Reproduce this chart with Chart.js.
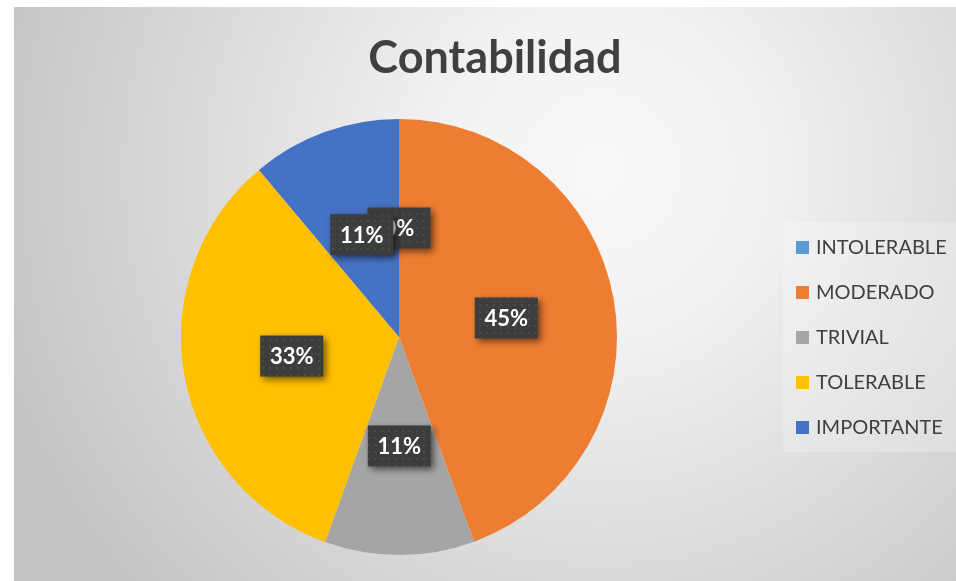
<!DOCTYPE html>
<html>
<head>
<meta charset="utf-8">
<script src="https://cdn.jsdelivr.net/npm/chart.js@4"></script>
<style>
  html, body { margin: 0; padding: 0; background: #ffffff; }
  #wrap { position: relative; width: 956px; height: 581px; }
</style>
</head>
<body>
<div id="wrap"><canvas id="riskChart"></canvas></div>
<script>
// data (slice sizes from the angles, labels as printed)
const categories = ['INTOLERABLE', 'MODERADO', 'TRIVIAL', 'TOLERABLE', 'IMPORTANTE'];
const sliceValues = [0, 44.4, 11.1, 33.4, 11.1];
const percentLabels = ['0%', '45%', '11%', '33%', '11%'];
const chartTitle = 'Contabilidad';

const sliceColors = ['#5B9BD5', '#ED7D31', '#A5A5A5', '#FFC000', '#4472C4'];

// dotted dark fill for the value boxes
function makeDots() {
  const c = document.createElement('canvas');
  c.width = 7; c.height = 7;
  const g = c.getContext('2d');
  g.fillStyle = '#3d3d3d';
  g.fillRect(0, 0, 7, 7);
  g.fillStyle = '#4c4c4c';
  g.fillRect(3, 3, 2, 2);
  return g.createPattern(c, 'repeat');
}

// background frame with soft radial light
const backgroundPlugin = {
  id: 'frameBg',
  beforeDraw(chart) {
    const c = chart.ctx;
    c.save();
    c.fillStyle = '#ffffff';
    c.fillRect(0, 0, chart.width, chart.height);
    const grad = c.createRadialGradient(600, 170, 0, 600, 170, 640);
    grad.addColorStop(0, '#f8f8f8');
    grad.addColorStop(0.25, '#f2f2f2');
    grad.addColorStop(1, '#c3c3c3');
    c.fillStyle = grad;
    c.fillRect(14, 7, chart.width - 14, chart.height - 7);
    c.fillStyle = 'rgba(255,255,255,0.22)';
    c.fillRect(783, 222, chart.width - 783, 230);
    c.restore();
  }
};

// title + legend
const textPlugin = {
  id: 'titleLegend',
  afterDraw(chart) {
    const c = chart.ctx;
    c.save();
    c.fillStyle = '#404040';
    c.font = 'bold 45px Lato';
    c.textAlign = 'center';
    c.textBaseline = 'middle';
    c.fillText(chartTitle, 495, 58);

    c.font = '20px Lato';
    c.textAlign = 'left';
    chart.data.labels.forEach((label, i) => {
      const y = 247 + i * 45;
      c.fillStyle = chart.data.datasets[0].backgroundColor[i];
      c.fillRect(796, y - 6, 13, 13);
      c.fillStyle = '#404040';
      c.fillText(label, 816, y + 1);
    });
    c.restore();
  }
};

// percent boxes on slices
const valueBoxPlugin = {
  id: 'valueBoxes',
  afterDatasetsDraw(chart) {
    const c = chart.ctx;
    const meta = chart.getDatasetMeta(0);
    const dots = makeDots();
    c.save();
    meta.data.forEach((arc, i) => {
      const p = arc.tooltipPosition();
      const w = 63, h = 41;
      c.save();
      c.shadowColor = 'rgba(0,0,0,0.55)';
      c.shadowBlur = 7;
      c.shadowOffsetX = 3;
      c.shadowOffsetY = 3;
      c.fillStyle = dots;
      c.fillRect(p.x - w / 2, p.y - h / 2, w, h);
      c.restore();
      c.fillStyle = '#ffffff';
      c.font = 'bold 22px Lato';
      c.textAlign = 'center';
      c.textBaseline = 'middle';
      c.fillText(percentLabels[i], p.x, p.y + 1);
    });
    c.restore();
  }
};

new Chart(document.getElementById('riskChart'), {
  type: 'pie',
  data: {
    labels: categories,
    datasets: [{
      data: sliceValues,
      backgroundColor: sliceColors,
      borderWidth: 0
    }]
  },
  options: {
    responsive: true,
    maintainAspectRatio: false,
    animation: false,
    layout: {
      padding: { left: 181, right: 339, top: 119, bottom: 26 }
    },
    plugins: {
      legend: { display: false },
      title: { display: false },
      tooltip: { enabled: false }
    }
  },
  plugins: [backgroundPlugin, valueBoxPlugin, textPlugin]
});
</script>
</body>
</html>
